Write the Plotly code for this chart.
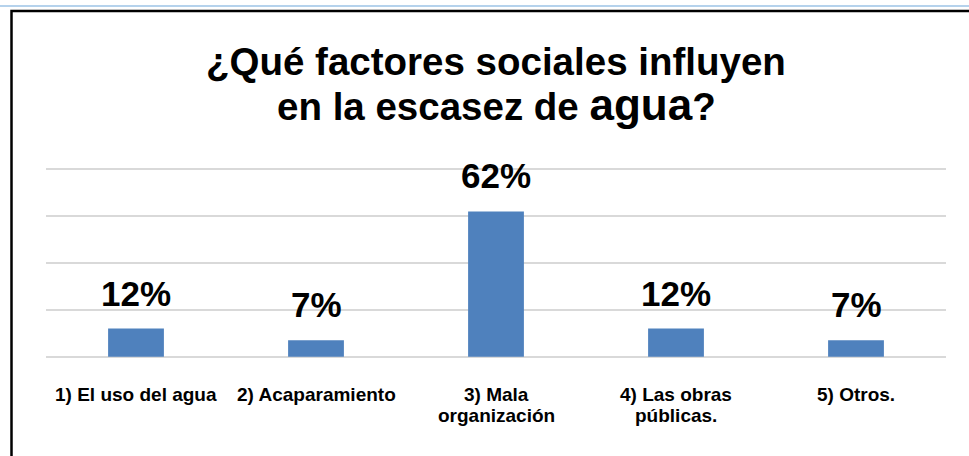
import plotly.graph_objects as go

categories = ["1) El uso del agua", "2) Acaparamiento", "3) Mala<br>organización",
              "4) Las obras<br>públicas.", "5) Otros."]
values = [12, 7, 62, 12, 7]
labels = ["12%", "7%", "62%", "12%", "7%"]
y_ticks = [0, 20, 40, 60, 80]
title_lines = ["¿Qué factores sociales influyen",
               "en la escasez de <span style='font-size:44px'>agua</span>?"]

FONT = "Liberation Sans, Arial, sans-serif"
BAR = "#4F81BD"

W, H = 969, 456
L, R, T, B = 46, 23, 167, 97
PH = H - T - B  # plot height in px


def py(y_px):
    """pixel row -> paper y"""
    return (H - B - y_px) / PH


def px(x_px):
    return (x_px - L) / (W - L - R)


fig = go.Figure()
fig.add_trace(go.Bar(
    x=categories, y=values, width=0.31,
    marker=dict(color=BAR, line=dict(width=0)),
    hoverinfo="skip",
))

# value labels
for c, v, t in zip(categories, values, labels):
    fig.add_annotation(x=c, y=v, text="<b>%s</b>" % t, showarrow=False,
                       yanchor="bottom", yshift=14,
                       font=dict(family=FONT, size=35, color="black"))

# category labels (each line placed separately for tight line spacing)
for c in categories:
    for i, line in enumerate(c.split("<br>")):
        fig.add_annotation(x=c, y=0, text="<b>%s</b>" % line, showarrow=False,
                           yanchor="middle", yshift=-(38 + 21 * i),
                           font=dict(family=FONT, size=19, color="black"))

# title lines
for i, (line, yc) in enumerate(zip(title_lines, [61, 105])):
    fig.add_annotation(xref="paper", yref="paper", x=0.5, y=py(yc),
                       text="<b>%s</b>" % line, showarrow=False,
                       xanchor="center", yanchor="middle",
                       font=dict(family=FONT, size=38.5, color="black"))

# outer frame and top blue line
fig.add_shape(type="rect", xref="paper", yref="paper",
              x0=px(11.5), x1=1.2, y0=-0.8, y1=py(11),
              line=dict(color="black", width=2.5), fillcolor="rgba(0,0,0,0)", layer="below")
fig.add_shape(type="line", xref="paper", yref="paper",
              x0=-0.1, x1=1.1, y0=py(6), y1=py(6),
              line=dict(color="#9DC3E6", width=1.5))

fig.update_layout(
    width=W, height=H,
    margin=dict(l=L, r=R, t=T, b=B),
    paper_bgcolor="white", plot_bgcolor="white",
    showlegend=False,
    xaxis=dict(showgrid=False, showline=False, zeroline=False,
               showticklabels=False, ticks=""),
    yaxis=dict(range=[-1, 81], tickvals=y_ticks, showticklabels=False,
               showgrid=True, gridcolor="#D9D9D9", gridwidth=2,
               zeroline=False, showline=False),
)

fig.write_html("out.html", config={"displayModeBar": False},
               post_script="document.body.style.margin='0';")
